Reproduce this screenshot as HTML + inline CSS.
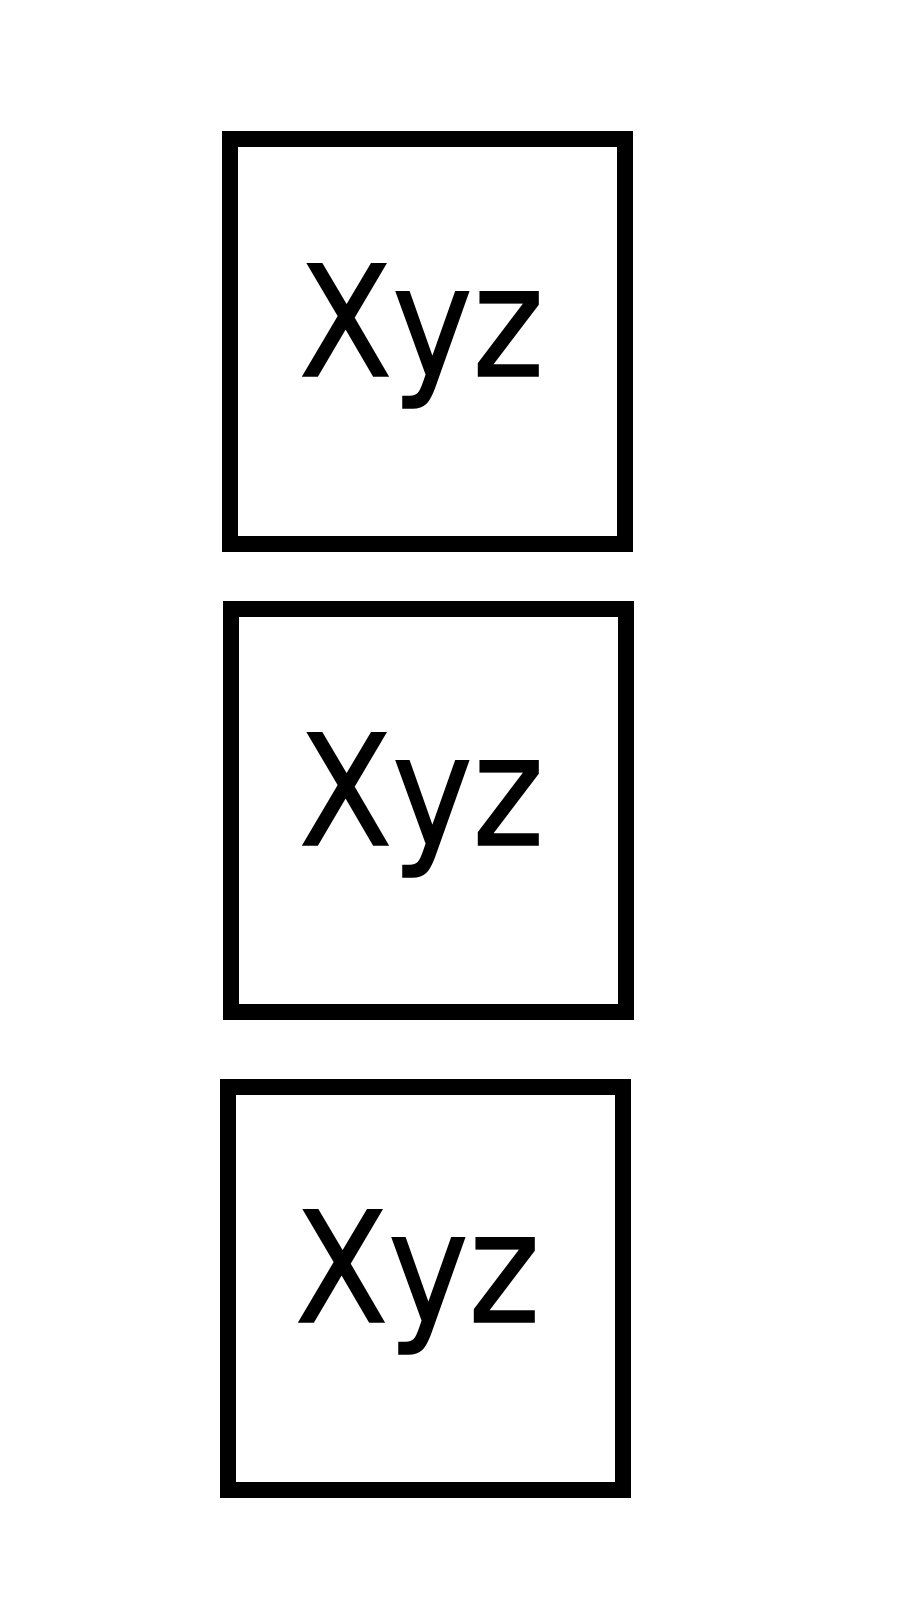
<!DOCTYPE html>
<html><head><style>html,body{margin:0;padding:0;background:#fff;}</style></head>
<body>
<svg width="900" height="1600" xmlns="http://www.w3.org/2000/svg">
<g fill="none" stroke="#000" stroke-width="16">
<rect x="230" y="139" width="395" height="405"/>
<rect x="231" y="609" width="395" height="403"/>
<rect x="228" y="1087" width="395" height="403"/>
</g>
<g font-family="DejaVu Sans, sans-serif" font-size="154" fill="#000" stroke="#000" stroke-width="1.5">
<text x="299" y="376" textLength="245" lengthAdjust="spacingAndGlyphs">Xyz</text>
<text x="299" y="845" textLength="245" lengthAdjust="spacingAndGlyphs">Xyz</text>
<text x="295" y="1322" textLength="245" lengthAdjust="spacingAndGlyphs">Xyz</text>
</g>
</svg>
</body></html>
